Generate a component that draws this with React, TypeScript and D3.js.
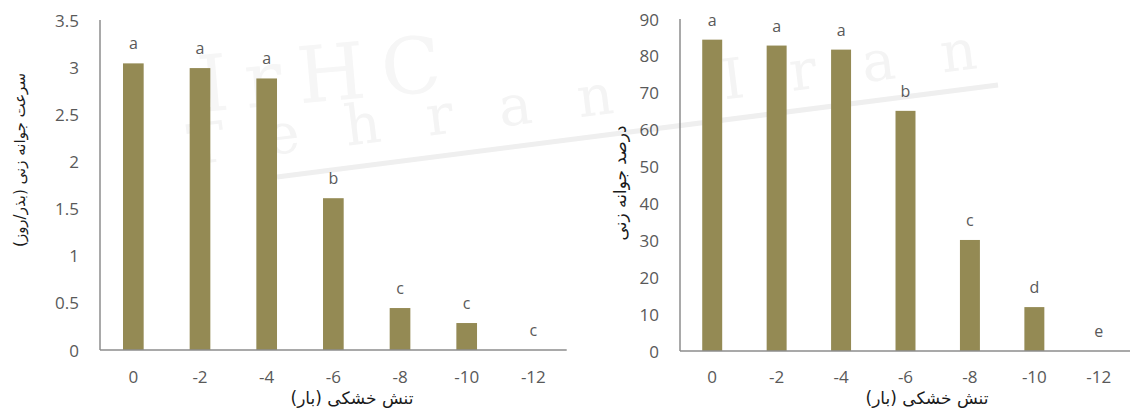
import React from "react";
import * as d3 from "d3";

const categories = ["0", "-2", "-4", "-6", "-8", "-10", "-12"];
const rateValues = [3.04, 2.99, 2.88, 1.61, 0.445, 0.286, 0];
const rateLetters = ["a", "a", "a", "b", "c", "c", "c"];
const percentValues = [84.4, 82.8, 81.7, 65.1, 30.1, 11.9, 0];
const percentLetters = ["a", "a", "a", "b", "c", "d", "e"];
const rateTicks = [0, 0.5, 1, 1.5, 2, 2.5, 3, 3.5];
const percentTicks = [0, 10, 20, 30, 40, 50, 60, 70, 80, 90];

const xTitle = "تنش خشکی (بار)";
const rateTitle = "سرعت جوانه زنی (بذر/روز)";
const percentTitle = "درصد جوانه زنی";

const BAR = "#948a54";
const AXIS = "#8c8c8c";
const TEXT = "#595959";
const NUM_FONT = "'Open Sans', 'Noto Sans', sans-serif";
const FA_FONT = "'DejaVu Sans', sans-serif";

type PanelProps = {
  values: number[];
  letters: string[];
  ticks: number[];
  domainMax: number;
  x0: number;
  x1: number;
  y0: number;
  y1: number;
  yTitle: string;
  yTitleX: number;
  yTitleY: number;
  yTitleSize: number;
  xTitleX: number;
};

function Panel(p: PanelProps) {
  const x = d3.scaleBand<string>().domain(categories).range([p.x0, p.x1]).padding(0);
  const y = d3.scaleLinear().domain([0, p.domainMax]).range([p.y0, p.y1]);
  const bw = x.step() * 0.31;
  const fmt = (v: number) => String(v);
  return (
    <g>
      {p.ticks.map((t) => (
        <text
          key={"t" + t}
          x={p.x0 - 21}
          y={y(t)}
          textAnchor="end"
          dominantBaseline="central"
          fontFamily={NUM_FONT}
          fontSize={17}
          fill={TEXT}
        >
          {fmt(t)}
        </text>
      ))}
      {categories.map((c, i) => {
        const cx = (x(c) as number) + x.step() / 2;
        const top = y(p.values[i]);
        return (
          <g key={"b" + c}>
            <rect x={cx - bw / 2} y={top} width={bw} height={p.y0 - top} fill={BAR} />
            <text
              x={cx}
              y={top - 20}
              textAnchor="middle"
              dominantBaseline="central"
              fontFamily={NUM_FONT}
              fontSize={16}
              fill={TEXT}
            >
              {p.letters[i]}
            </text>
            <text
              x={cx}
              y={376}
              textAnchor="middle"
              dominantBaseline="central"
              fontFamily={NUM_FONT}
              fontSize={17}
              fill={TEXT}
            >
              {c}
            </text>
          </g>
        );
      })}
      <line x1={p.x0} x2={p.x0} y1={p.y1} y2={p.y0} stroke={AXIS} strokeWidth={1.5} />
      <line x1={p.x0} x2={p.x1} y1={p.y0} y2={p.y0} stroke={AXIS} strokeWidth={1.5} />
      <text
        x={p.xTitleX}
        y={398}
        textAnchor="middle"
        dominantBaseline="central"
        fontFamily={FA_FONT}
        fontSize={17}
        fill="#1a1a1a"
        direction="rtl"
      >
        {xTitle}
      </text>
      <text
        transform={`translate(${p.yTitleX},${p.yTitleY}) rotate(-90)`}
        textAnchor="middle"
        dominantBaseline="central"
        fontFamily={FA_FONT}
        fontSize={p.yTitleSize}
        fill="#1a1a1a"
        direction="rtl"
      >
        {p.yTitle}
      </text>
    </g>
  );
}

export default function App() {
  return (
    <svg
      width={1130}
      height={412}
      style={{ position: "absolute", left: 0, top: 0, background: "#fff" }}
    >
      <rect x={0} y={0} width={1130} height={412} fill="#fff" />
      <g>
        <line x1={277} y1={177} x2={998} y2={85} stroke="#efefef" strokeWidth={5} />
        <text
          transform="translate(200,112) rotate(-5)"
          fontFamily="'DejaVu Serif', serif"
          fontSize={78}
          fill="#f6f6f6"
          letterSpacing={16}
        >
          IrHC
        </text>
        <text
          transform="translate(190,165) rotate(-7)"
          fontFamily="'DejaVu Serif', serif"
          fontSize={56}
          fill="#f4f4f4"
          letterSpacing={46}
        >
          Tehran Iran
        </text>
      </g>
      <Panel
        values={rateValues}
        letters={rateLetters}
        ticks={rateTicks}
        domainMax={3.5}
        x0={100}
        x1={566.7}
        y0={350}
        y1={20}
        yTitle={rateTitle}
        yTitleX={20}
        yTitleY={160}
        yTitleSize={15}
        xTitleX={352}
      />
      <Panel
        values={percentValues}
        letters={percentLetters}
        ticks={percentTicks}
        domainMax={90}
        x0={680}
        x1={1131}
        y0={351}
        y1={19}
        yTitle={percentTitle}
        yTitleX={620}
        yTitleY={183}
        yTitleSize={17}
        xTitleX={927}
      />
    </svg>
  );
}
